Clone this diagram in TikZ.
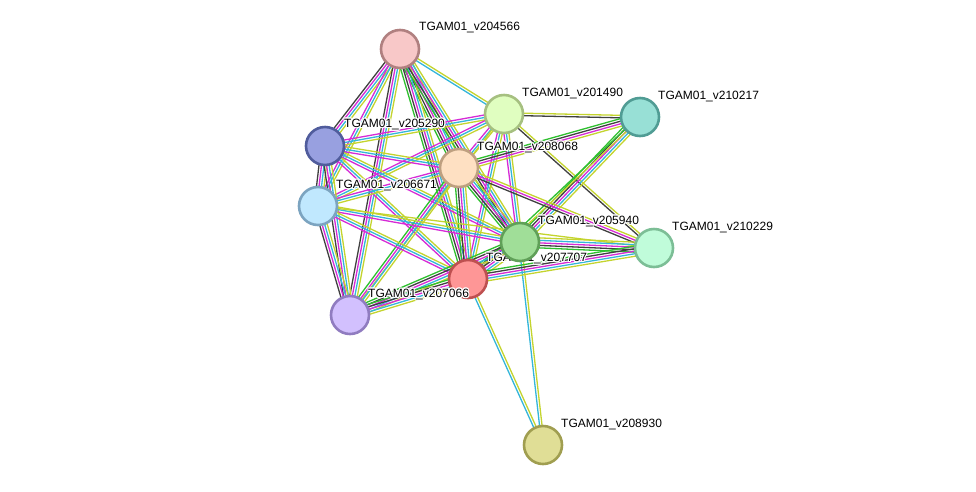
\documentclass[tikz,border=0pt]{standalone}
\usepackage{fontspec}
\setmainfont{Liberation Sans}
\usepackage[copies]{contour}
\contourlength{1.1pt}
\contournumber{12}
\usetikzlibrary{calc}
\definecolor{cT}{HTML}{C4D42E}
\definecolor{cD}{HTML}{34B6DA}
\definecolor{cE}{HTML}{D62AD6}
\definecolor{cK}{HTML}{404040}
\definecolor{cN}{HTML}{2EC02E}
\definecolor{cB}{HTML}{2424E0}
\newcommand{\sedge}[3]{%
  \foreach \c [count=\i] in {#3} {\xdef\ncount{\i}}%
  \foreach \c [count=\i] in {#3} {%
    \pgfmathsetmacro\off{(\i-(\ncount+1)/2)*2.5}%
    \draw[edgeline,\c] ($(#1)!\off pt!90:(#2)$) -- ($(#2)!\off pt!-90:(#1)$);
  }}
\tikzset{
  edgeline/.style={line width=1.3pt},
  prot/.style={circle, minimum size=38pt, inner sep=0pt, line width=2.6pt},
  plabel/.style={anchor=west, font=\fontsize{12}{14}\selectfont, inner sep=0pt},
}
\begin{document}
\begin{tikzpicture}[x=1pt,y=-1pt]
\useasboundingbox[fill=white] (0,0) rectangle (976,491);
\coordinate (A) at (400,49);
\coordinate (B) at (504,114);
\coordinate (C) at (640,117);
\coordinate (D) at (325,146);
\coordinate (E) at (459,168);
\coordinate (F) at (318,206);
\coordinate (G) at (520,242);
\coordinate (H) at (654,248);
\coordinate (I) at (468,279);
\coordinate (J) at (350,315);
\coordinate (K) at (543,445);
% edges
\sedge{A}{D}{cK,cE,cD,cT}
\sedge{A}{F}{cE,cD,cT}
\sedge{A}{J}{cK,cE,cD,cT}
\sedge{A}{B}{cD,cT}
\sedge{A}{E}{cN,cK,cE,cD,cT}
\sedge{A}{I}{cN,cK,cE,cD,cT}
\sedge{A}{G}{cN,cK,cE,cD,cT}
\sedge{B}{C}{cK,cT}
\sedge{B}{D}{cE,cD,cT}
\sedge{B}{F}{cE,cD,cT}
\sedge{B}{E}{cE,cD,cT}
\sedge{B}{G}{cE,cD,cT}
\sedge{B}{I}{cE,cD,cT}
\sedge{B}{H}{cK,cT}
\sedge{B}{J}{cT}
\sedge{C}{E}{cN,cK,cE,cT}
\sedge{C}{G}{cN,cK,cE,cD,cT}
\sedge{C}{I}{cN,cT}
\sedge{D}{F}{cK,cE,cD,cT}
\sedge{D}{J}{cK,cE,cD,cT}
\sedge{D}{E}{cE,cD,cT}
\sedge{D}{G}{cE,cD,cT}
\sedge{D}{I}{cE,cD,cT}
\sedge{E}{F}{cE,cD,cT}
\sedge{E}{G}{cN,cK,cE,cD,cT}
\sedge{E}{I}{cN,cK,cE,cD,cT}
\sedge{E}{J}{cN,cE,cD,cT}
\sedge{E}{H}{cK,cE,cT}
\sedge{F}{J}{cK,cE,cD,cT}
\sedge{F}{G}{cE,cD,cT}
\sedge{F}{I}{cE,cD,cT}
\sedge{F}{H}{cT}
\sedge{G}{H}{cN,cK,cE,cD,cT}
\sedge{G}{I}{cN,cB,cK,cE,cD,cT}
\sedge{G}{J}{cN,cK,cE,cD,cT}
\sedge{G}{K}{cD,cT}
\sedge{H}{I}{cN,cK,cE,cD,cT}
\sedge{I}{J}{cN,cK,cE,cD,cT}
\sedge{I}{K}{cD,cT}
% nodes
\node[prot, fill={rgb,255:red,224;green,222;blue,150}, draw={rgb,255:red,160;green,158;blue,80}] (nK) at (K) {};
\node[plabel] (lK) at ($(K)+(18,-20)$) {\contour{white}{TGAM01\_v208930}};
\node[prot, fill={rgb,255:red,192;green,252;blue,218}, draw={rgb,255:red,124;green,190;blue,150}] (nH) at (H) {};
\node[plabel] (lH) at ($(H)+(18,-20)$) {\contour{white}{TGAM01\_v210229}};
\node[prot, fill={rgb,255:red,152;green,224;blue,214}, draw={rgb,255:red,80;green,156;blue,148}] (nC) at (C) {};
\node[plabel] (lC) at ($(C)+(18,-20)$) {\contour{white}{TGAM01\_v210217}};
\node[prot, fill={rgb,255:red,248;green,200;blue,200}, draw={rgb,255:red,176;green,128;blue,128}] (nA) at (A) {};
\node[plabel] (lA) at ($(A)+(19,-21)$) {\contour{white}{TGAM01\_v204566}};
\node[prot, fill={rgb,255:red,224;green,254;blue,192}, draw={rgb,255:red,166;green,192;blue,128}] (nB) at (B) {};
\node[plabel] (lB) at ($(B)+(18,-20)$) {\contour{white}{TGAM01\_v201490}};
\node[prot, fill={rgb,255:red,152;green,160;blue,224}, draw={rgb,255:red,80;green,92;blue,156}] (nD) at (D) {};
\node[plabel] (lD) at ($(D)+(19,-21)$) {\contour{white}{TGAM01\_v205290}};
\node[prot, fill={rgb,255:red,192;green,232;blue,254}, draw={rgb,255:red,124;green,164;blue,192}] (nF) at (F) {};
\node[plabel] (lF) at ($(F)+(18,-20)$) {\contour{white}{TGAM01\_v206671}};
\node[prot, fill={rgb,255:red,254;green,224;blue,194}, draw={rgb,255:red,190;green,160;blue,128}] (nE) at (E) {};
\node[plabel] (lE) at ($(E)+(18,-20)$) {\contour{white}{TGAM01\_v208068}};
\node[prot, fill={rgb,255:red,254;green,150;blue,150}, draw={rgb,255:red,190;green,80;blue,80}] (nI) at (I) {};
\node[plabel] (lI) at ($(I)+(18,-20)$) {\contour{white}{TGAM01\_v207707}};
\node[prot, fill={rgb,255:red,160;green,222;blue,152}, draw={rgb,255:red,96;green,160;blue,88}] (nG) at (G) {};
\node[plabel] (lG) at ($(G)+(18,-20)$) {\contour{white}{TGAM01\_v205940}};
\node[prot, fill={rgb,255:red,210;green,192;blue,254}, draw={rgb,255:red,144;green,124;blue,192}] (nJ) at (J) {};
\node[plabel] (lJ) at ($(J)+(18,-20)$) {\contour{white}{TGAM01\_v207066}};
\end{tikzpicture}
\end{document}
